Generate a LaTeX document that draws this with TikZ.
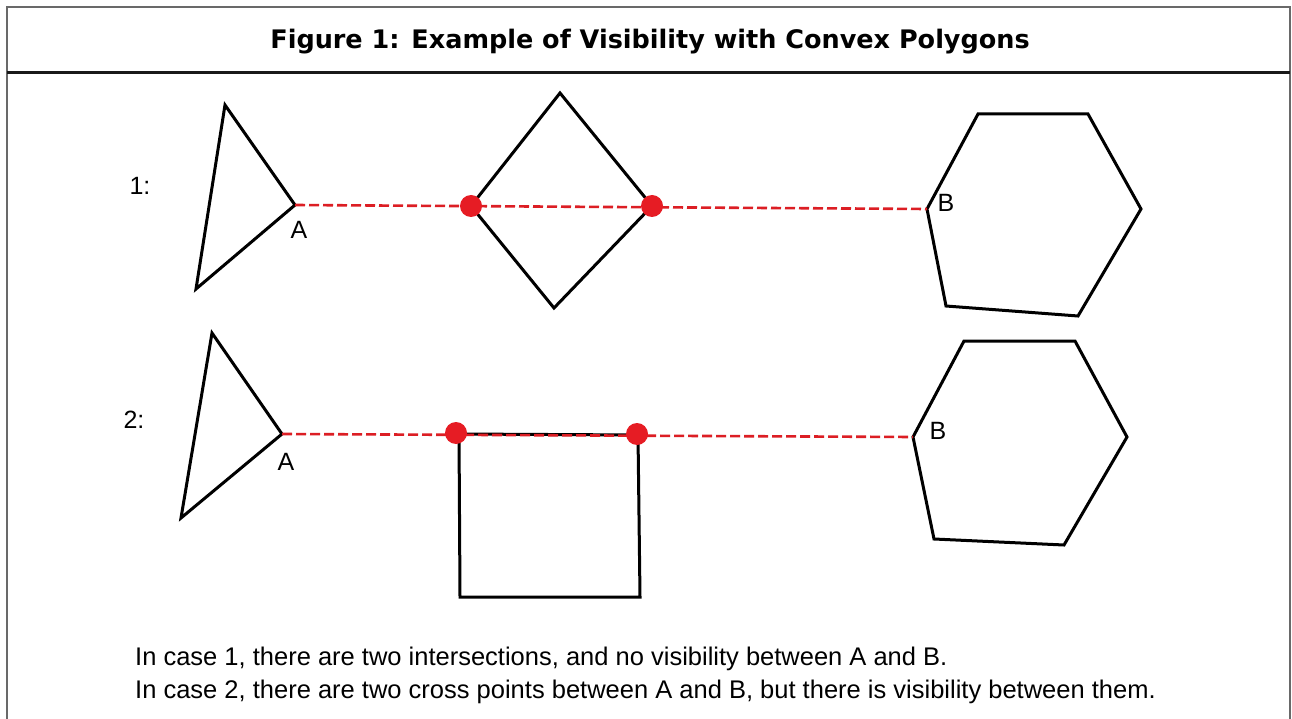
\documentclass[tikz,border=0pt]{standalone}
\usepackage{fontspec}
\setmainfont{Liberation Sans}
\newfontfamily\titlefont{DejaVu Sans}
\begin{document}
\begin{tikzpicture}[x=1pt,y=-1pt,
  frameline/.style={draw={rgb,255:red,105;green,105;blue,105}, line width=2.5pt},
  sepline/.style={draw={rgb,255:red,25;green,25;blue,25}, line width=3pt},
  poly/.style={draw=black, line width=3pt, line join=miter},
  sight/.style={draw={rgb,255:red,220;green,30;blue,36}, line width=2.6pt, dash pattern=on 10pt off 4pt},
  cross/.style={circle, fill={rgb,255:red,230;green,28;blue,36}, minimum size=22pt, inner sep=0pt},
  lbl/.style={font=\fontsize{25}{29}\selectfont, inner sep=0pt},
  body/.style={font=\fontsize{25.5}{30}\selectfont, inner sep=0pt, anchor=base west},
]
\useasboundingbox (0,0) rectangle (1292,719);
\fill[white] (0,0) rectangle (1292,719);
% frame
\draw[frameline] (7,719) -- (7,7) -- (1290,7) -- (1290,719);
\draw[sepline] (7,73) -- (1290,73);
\node[font=\titlefont\bfseries\fontsize{25.5}{30}\selectfont, anchor=base, inner sep=0pt] (title) at (650,49) {Figure 1: Example of Visibility with Convex Polygons};

% ---------- case 1 ----------
\node[lbl] (n1) at (140,186) {1:};
\coordinate (t1a) at (225,105);
\coordinate (A1) at (295,205);
\coordinate (t1c) at (196,289);
\draw[poly] (t1a) -- (A1) -- (t1c) -- cycle;
\node[lbl] (lA1) at (299,230) {A};

\coordinate (d1t) at (560,93);
\coordinate (d1l) at (471,206);
\coordinate (d1b) at (554,308);
\coordinate (d1r) at (652,206);
\draw[poly] (d1t) -- (d1r) -- (d1b) -- (d1l) -- cycle;

\coordinate (h1a) at (978,114);
\coordinate (h1b) at (1088,114);
\coordinate (h1c) at (1141,209);
\coordinate (h1d) at (1078,316);
\coordinate (h1e) at (946,306);
\coordinate (B1) at (927,209);
\draw[poly] (h1a) -- (h1b) -- (h1c) -- (h1d) -- (h1e) -- (B1) -- cycle;
\node[lbl] (lB1) at (946,203) {B};

\draw[sight] (A1) -- (B1);
\node[cross] (x1a) at (471,206) {};
\node[cross] (x1b) at (652,206) {};

% ---------- case 2 ----------
\node[lbl] (n2) at (134,420) {2:};
\coordinate (t2a) at (212,333);
\coordinate (A2) at (282,434);
\coordinate (t2c) at (181,518);
\draw[poly] (t2a) -- (A2) -- (t2c) -- cycle;
\node[lbl] (lA2) at (286,462) {A};

\coordinate (s2a) at (459,434);
\coordinate (s2b) at (638,435);
\coordinate (s2c) at (640,597);
\coordinate (s2d) at (460,597);
\draw[poly] (s2a) -- (s2b) -- (s2c) -- (s2d) -- cycle;

\coordinate (h2a) at (964,341);
\coordinate (h2b) at (1075,341);
\coordinate (h2c) at (1127,437);
\coordinate (h2d) at (1064,545);
\coordinate (h2e) at (934,539);
\coordinate (B2) at (913,437);
\draw[poly] (h2a) -- (h2b) -- (h2c) -- (h2d) -- (h2e) -- (B2) -- cycle;
\node[lbl] (lB2) at (938,431) {B};

\draw[sight] (A2) -- (B2);
\node[cross] (x2a) at (456,433) {};
\node[cross] (x2b) at (637,434) {};

% ---------- text ----------
\node[body] (c1) at (135,665) {In case 1, there are two intersections, and no visibility between A and B.};
\node[body] (c2) at (135,698) {In case 2, there are two cross points between A and B, but there is visibility between them.};
\end{tikzpicture}
\end{document}
